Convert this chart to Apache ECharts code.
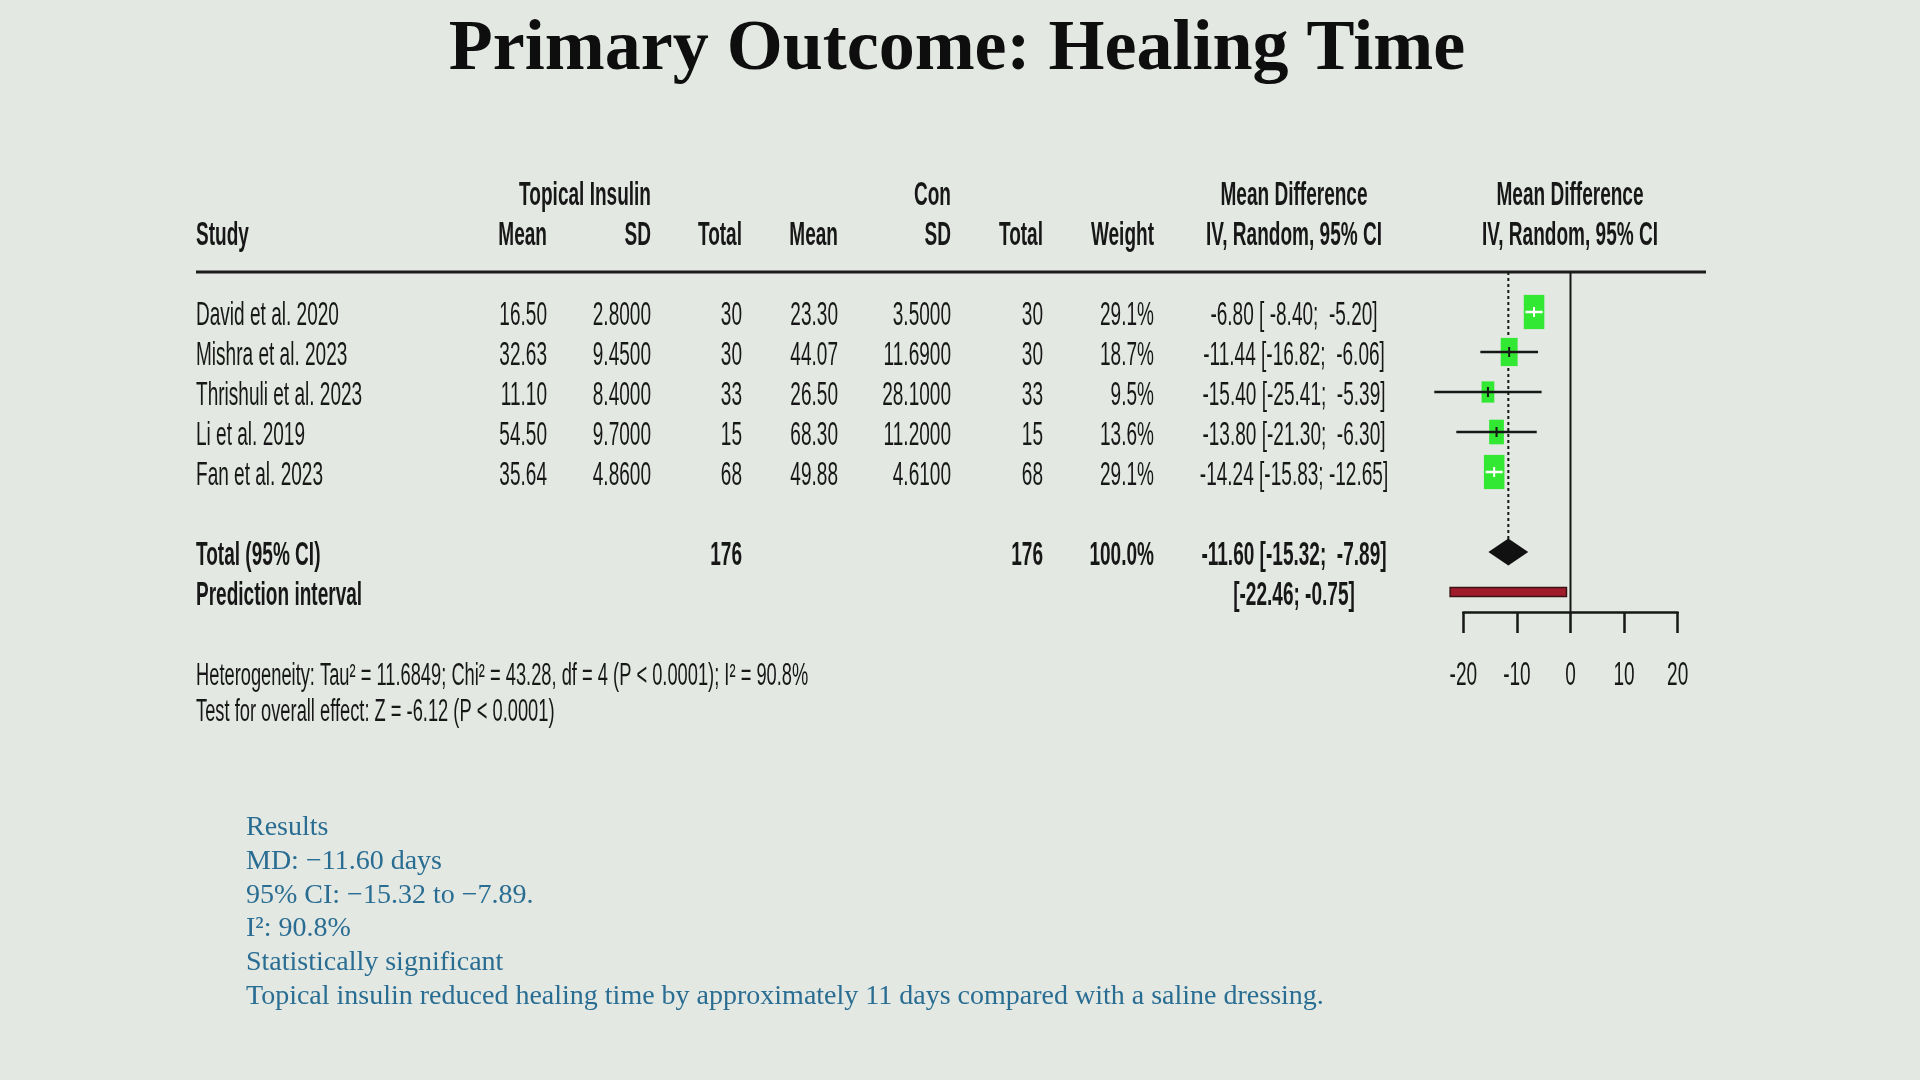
<!DOCTYPE html>
<html>
<head>
<meta charset="utf-8">
<title>Primary Outcome: Healing Time</title>
<style>
  html, body { margin: 0; height: 100%; background: #e3e8e3; }
  #main { width: 1920px; height: 1080px; }
</style>
</head>
<body>
<div id="main"></div>
<script src="https://cdn.jsdelivr.net/npm/echarts@6/dist/echarts.min.js"></script>
<script>
// ---- data ----
var studies = ['David et al. 2020', 'Mishra et al. 2023', 'Thrishuli et al. 2023', 'Li et al. 2019', 'Fan et al. 2023'];
var insulinMean = [16.50, 32.63, 11.10, 54.50, 35.64];
var insulinSD = [2.8, 9.45, 8.4, 9.7, 4.86];
var insulinN = [30, 30, 33, 15, 68];
var conMean = [23.30, 44.07, 26.50, 68.30, 49.88];
var conSD = [3.5, 11.69, 28.1, 11.2, 4.61];
var conN = [30, 30, 33, 15, 68];
var weights = [29.1, 18.7, 9.5, 13.6, 29.1];
var md = [-6.80, -11.44, -15.40, -13.80, -14.24];
var ciLow = [-8.40, -16.82, -25.41, -21.30, -15.83];
var ciHigh = [-5.20, -6.06, -5.39, -6.30, -12.65];
var pooled = [-11.60, -15.32, -7.89];     // estimate, lower, upper
var prediction = [-22.46, -0.75];
var xTicks = [-20, -10, 0, 10, 20];

var heterogeneity = 'Heterogeneity: Tau\u00b2 = 11.6849; Chi\u00b2 = 43.28, df = 4 (P < 0.0001); I\u00b2 = 90.8%';
var overallTest = 'Test for overall effect: Z = -6.12 (P < 0.0001)';
var resultsLines = [
  'Results',
  'MD: \u221211.60 days',
  '95% CI: \u221215.32 to \u22127.89.',
  'I\u00b2: 90.8%',
  'Statistically significant',
  'Topical insulin reduced healing time by approximately 11 days compared with a saline dressing.'
];

// ---- table layout ----
var COL = { study: 196, tMean: 547, tSD: 651, tTotal: 742, cMean: 838, cSD: 951, cTotal: 1043, weight: 1154, md: 1294, plot: 1570 };
var INK = '#171717';

function sum(a) { return a.reduce(function (s, v) { return s + v; }, 0); }
function pad(v) { var s = v.toFixed(2); while (s.length < 6) s = ' ' + s; return s; }
function ciLabel(est, lo, hi) { return est.toFixed(2) + ' [' + pad(lo) + '; ' + pad(hi) + ']'; }
function cell(text, x, align, bold) { return { text: text, x: x, align: align, bold: !!bold }; }

var tableRows = [];
tableRows.push({ row: -2, cells: [
  cell('Topical Insulin', COL.tSD, 'right', 1), cell('Con', COL.cSD, 'right', 1),
  cell('Mean Difference', COL.md, 'center', 1), cell('Mean Difference', COL.plot, 'center', 1)
]});
tableRows.push({ row: -1, cells: [
  cell('Study', COL.study, 'left', 1), cell('Mean', COL.tMean, 'right', 1), cell('SD', COL.tSD, 'right', 1),
  cell('Total', COL.tTotal, 'right', 1), cell('Mean', COL.cMean, 'right', 1), cell('SD', COL.cSD, 'right', 1),
  cell('Total', COL.cTotal, 'right', 1), cell('Weight', COL.weight, 'right', 1),
  cell('IV, Random, 95% CI', COL.md, 'center', 1), cell('IV, Random, 95% CI', COL.plot, 'center', 1)
]});
studies.forEach(function (s, i) {
  tableRows.push({ row: i + 1, cells: [
    cell(s, COL.study, 'left'),
    cell(insulinMean[i].toFixed(2), COL.tMean, 'right'),
    cell(insulinSD[i].toFixed(4), COL.tSD, 'right'),
    cell(String(insulinN[i]), COL.tTotal, 'right'),
    cell(conMean[i].toFixed(2), COL.cMean, 'right'),
    cell(conSD[i].toFixed(4), COL.cSD, 'right'),
    cell(String(conN[i]), COL.cTotal, 'right'),
    cell(weights[i].toFixed(1) + '%', COL.weight, 'right'),
    cell(ciLabel(md[i], ciLow[i], ciHigh[i]), COL.md, 'center')
  ]});
});
tableRows.push({ row: 7, cells: [
  cell('Total (95% CI)', COL.study, 'left', 1),
  cell(String(sum(insulinN)), COL.tTotal, 'right', 1),
  cell(String(sum(conN)), COL.cTotal, 'right', 1),
  cell(sum(weights).toFixed(1) + '%', COL.weight, 'right', 1),
  cell(ciLabel(pooled[0], pooled[1], pooled[2]), COL.md, 'center', 1)
]});
tableRows.push({ row: 8, cells: [
  cell('Prediction interval', COL.study, 'left', 1),
  cell('[' + prediction[0].toFixed(2) + '; ' + prediction[1].toFixed(2) + ']', COL.md, 'center', 1)
]});
tableRows.push({ row: 10, small: true, cells: [cell(heterogeneity, COL.study, 'left')] });
tableRows.push({ row: 10.9, small: true, cells: [cell(overallTest, COL.study, 'left')] });

function condensedText(x, y, text, align, bold, size, sx) {
  return {
    type: 'text', x: x, y: y, scaleX: sx,
    style: {
      text: text, fill: INK, fontFamily: 'Liberation Sans', fontSize: size,
      fontWeight: bold ? 'bold' : 'normal', align: align, verticalAlign: 'middle'
    }
  };
}

function renderTable(params, api) {
  var r = tableRows[params.dataIndex];
  var y = api.coord([0, r.row])[1] + 4;
  return {
    type: 'group',
    children: r.cells.map(function (c) {
      return r.small ? condensedText(c.x, y, c.text, c.align, c.bold, 31, 0.59)
                     : condensedText(c.x, y, c.text, c.align, c.bold, 34, 0.56);
    })
  };
}

function renderRefs(params, api) {
  var top = api.coord([0, 0]);
  var axisBottom = api.coord([0, 8.5]);
  var dashTop = api.coord([pooled[0], 0]);
  var dashEnd = api.coord([pooled[0], 7]);
  return {
    type: 'group',
    children: [
      { type: 'line', shape: { x1: 196, y1: top[1], x2: 1706, y2: top[1] }, style: { stroke: '#1c1c1c', lineWidth: 3 } },
      { type: 'line', shape: { x1: top[0], y1: top[1], x2: axisBottom[0], y2: axisBottom[1] }, style: { stroke: INK, lineWidth: 2 } },
      { type: 'line', shape: { x1: dashTop[0], y1: dashTop[1], x2: dashEnd[0], y2: dashEnd[1] - 13 },
        style: { stroke: INK, lineWidth: 2, lineDash: [3, 3] } }
    ]
  };
}

function renderStudy(params, api) {
  var i = params.dataIndex;
  var c = api.coord([md[i], i + 1]);
  var lo = api.coord([ciLow[i], i + 1]);
  var hi = api.coord([ciHigh[i], i + 1]);
  var h = 4 + 5.6 * Math.sqrt(weights[i]);
  var w = h * 0.6;
  var col = (hi[0] - lo[0]) < w ? '#ffffff' : INK;
  return {
    type: 'group',
    children: [
      { type: 'rect', shape: { x: c[0] - w / 2, y: c[1] - h / 2, width: w, height: h }, style: { fill: '#33e833' } },
      { type: 'line', shape: { x1: lo[0], y1: c[1], x2: hi[0], y2: c[1] }, style: { stroke: col, lineWidth: 2.5 } },
      { type: 'line', shape: { x1: c[0], y1: c[1] - 5, x2: c[0], y2: c[1] + 5 }, style: { stroke: col, lineWidth: 2 } }
    ]
  };
}

function renderPooled(params, api) {
  var mid = api.coord([pooled[0], 7]);
  var lo = api.coord([pooled[1], 7]);
  var hi = api.coord([pooled[2], 7]);
  var pLo = api.coord([prediction[0], 8]);
  var pHi = api.coord([prediction[1], 8]);
  return {
    type: 'group',
    children: [
      { type: 'polygon', shape: { points: [[lo[0], mid[1]], [mid[0], mid[1] - 13.5], [hi[0], mid[1]], [mid[0], mid[1] + 13.5]] },
        style: { fill: '#111111' } },
      { type: 'rect', shape: { x: pLo[0], y: pLo[1] - 4.5, width: pHi[0] - pLo[0], height: 9 },
        style: { fill: '#a01b2b', stroke: '#3a1414', lineWidth: 1.5 } }
    ]
  };
}

function renderTick(params, api) {
  var p = api.coord([api.value(0), 8.5]);
  return condensedText(p[0], p[1] + 64, String(api.value(0)), 'center', false, 34, 0.56);
}

var chart = echarts.init(document.getElementById('main'));
chart.setOption({
  backgroundColor: '#e3e8e3',
  animation: false,
  grid: { left: 1463.3, top: 272, width: 214.4, height: 340 },
  xAxis: {
    type: 'value', min: -20, max: 20, interval: 10, position: 'bottom',
    axisLine: { show: true, onZero: false, lineStyle: { color: INK, width: 2.5 } },
    axisTick: { show: true, inside: false, length: 21, lineStyle: { color: INK, width: 2.5 } },
    axisLabel: { show: false },
    splitLine: { show: false }
  },
  yAxis: { type: 'value', min: 0, max: 8.5, inverse: true, show: false },
  graphic: [
    {
      type: 'text', x: 957, y: 50,
      style: { text: 'Primary Outcome: Healing Time', fill: '#0e0e0e', font: 'bold 72px "Liberation Serif"', align: 'center', verticalAlign: 'middle' }
    }
  ].concat(resultsLines.map(function (t, i) {
    return {
      type: 'text', x: 246, y: 828 + i * 33.7,
      style: { text: t, fill: '#2a6d92', font: '28px "Liberation Serif"', align: 'left', verticalAlign: 'middle' }
    };
  })),
  series: [
    { type: 'custom', name: 'table', z: 2, clip: false, silent: true, renderItem: renderTable,
      data: tableRows.map(function (r) { return [0, r.row]; }) },
    { type: 'custom', name: 'refs', z: 1, clip: false, silent: true, renderItem: renderRefs, data: [[pooled[0], 0]] },
    { type: 'custom', name: 'studies', z: 3, clip: false, silent: true, renderItem: renderStudy,
      data: md.map(function (v, i) { return [v, i + 1]; }) },
    { type: 'custom', name: 'pooled', z: 3, clip: false, silent: true, renderItem: renderPooled, data: [[pooled[0], 7]] },
    { type: 'custom', name: 'ticks', z: 2, clip: false, silent: true, renderItem: renderTick,
      data: xTicks.map(function (v) { return [v, 8.5]; }) }
  ]
});
</script>
</body>
</html>
